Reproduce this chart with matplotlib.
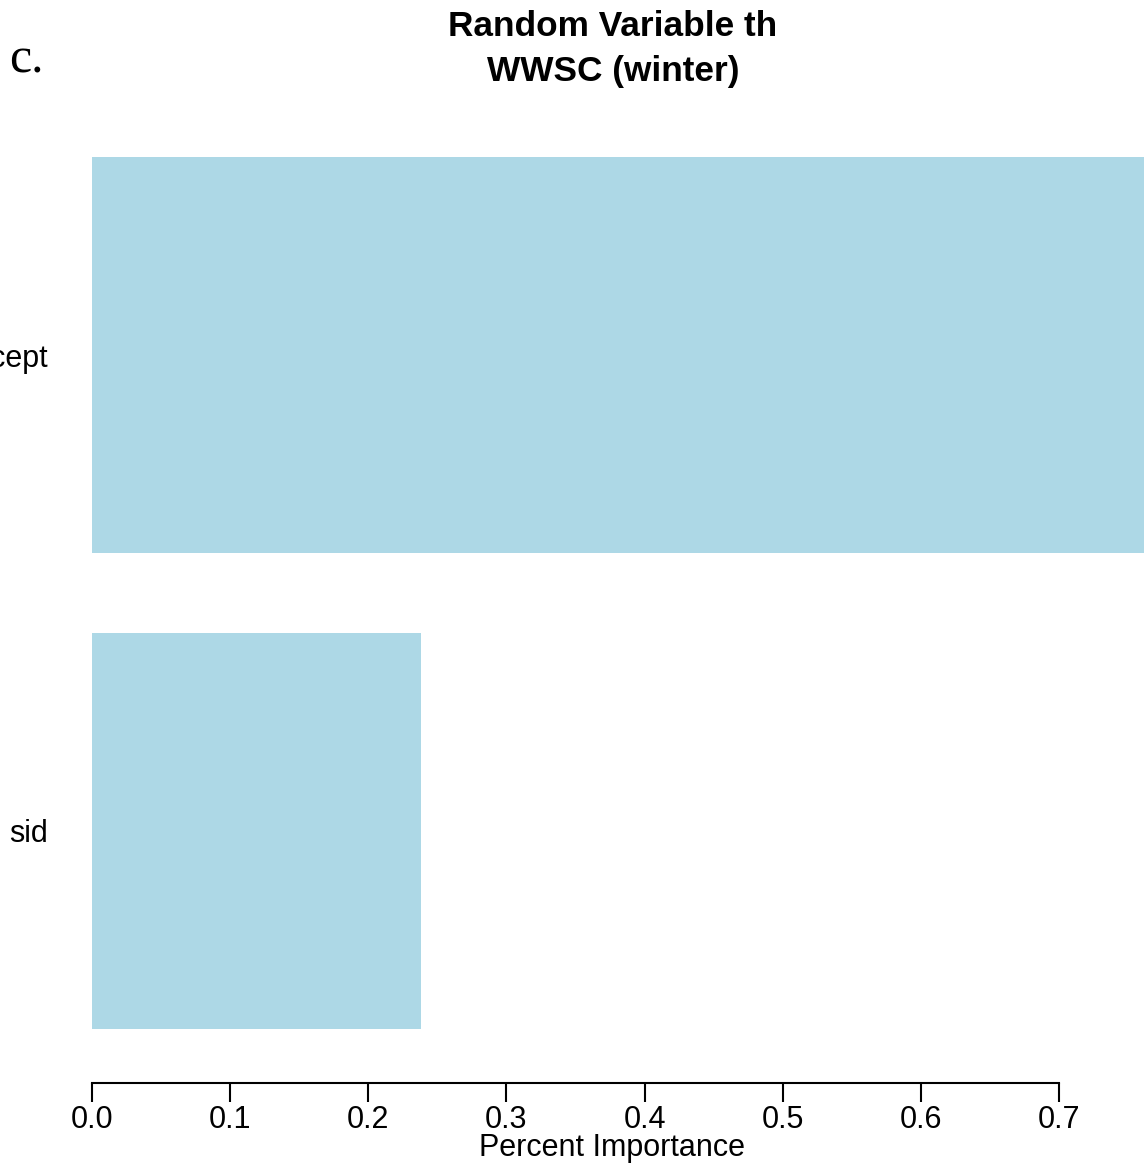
import matplotlib
matplotlib.use("Agg")
import matplotlib.pyplot as plt

# data
variables = ["sid", "Intercept"]
importance = [0.238, 0.762]
xticks = [0.0, 0.1, 0.2, 0.3, 0.4, 0.5, 0.6, 0.7]
xticklabels = ["0.0", "0.1", "0.2", "0.3", "0.4", "0.5", "0.6", "0.7"]

W, H = 1144, 1168
fig = plt.figure(figsize=(W / 100, H / 100), dpi=100)
plt.rcParams['font.family'] = ['Liberation Sans', 'DejaVu Sans']

x0, x1 = 92, 1144
y_top, y_bot = 157, 1029
ax = fig.add_axes([x0 / W, 1 - y_bot / H, (x1 - x0) / W, (y_bot - y_top) / H])

ypos = [0, 1.2]
ax.barh(ypos, importance, height=1.0, color="#ADD8E6", edgecolor="none")
ax.set_xlim(0, 0.7 * (x1 - x0) / (1059 - x0))
ax.set_ylim(-0.5, 1.7)

for s in ["top", "right", "left"]:
    ax.spines[s].set_visible(False)
ax.spines["bottom"].set_position(("outward", 54 * 0.72))
ax.spines["bottom"].set_bounds(0, 0.7)
ax.spines["bottom"].set_linewidth(1.5)

ax.set_xticks(xticks)
ax.set_xticklabels(xticklabels, fontsize=22)
ax.tick_params(axis="x", length=13.7, width=1.5, pad=2.5)
ax.set_yticks(ypos)
ax.set_yticklabels(variables, fontsize=22)
ax.tick_params(axis="y", length=0, pad=31.5)

fig.text(612 / W, 1 - 1148 / H, "Percent Importance", ha="center", va="center", fontsize=22)
fig.text(613 / W, 1 - 27 / H, "Random Variable th", ha="center", va="center",
         fontsize=25.4, fontweight="bold")
fig.text(613 / W, 1 - 72 / H, "WWSC (winter)", ha="center", va="center",
         fontsize=25.4, fontweight="bold")
fig.text(9 / W, 1 - 60 / H, "c.", ha="left", va="center", fontsize=36,
         family="Liberation Serif")

fig.savefig("out.png", dpi=100)
